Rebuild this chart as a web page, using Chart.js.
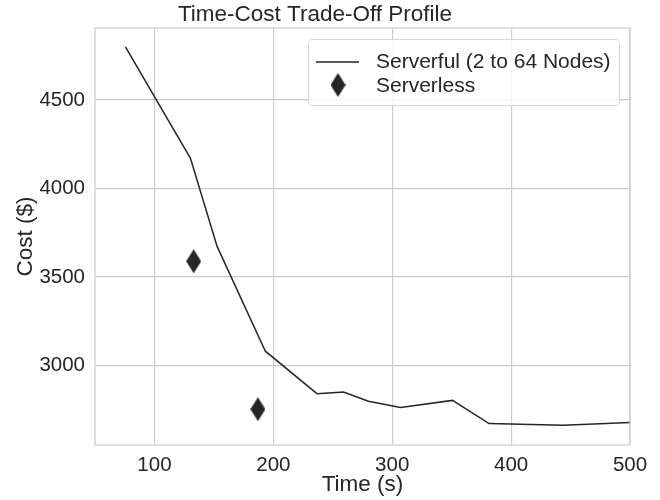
<!DOCTYPE html>
<html>
<head>
<meta charset="utf-8">
<script src="https://cdn.jsdelivr.net/npm/chart.js@4"></script>
<style>
  html, body { margin: 0; padding: 0; background: #fff; }
  #wrap { width: 660px; height: 500px; }
</style>
</head>
<body>
<div id="wrap"><canvas id="tradeoffChart" width="660" height="500"></canvas></div>
<script>
// Values
const serverfulTime = [75.6, 130.3, 152.7, 193.3, 236.7, 259, 280, 307, 350.7, 381.5, 444, 500];
const serverfulCost = [4800, 4171, 3673, 3081, 2841, 2850, 2798, 2763, 2803, 2672, 2663, 2678];
const serverlessTime = [133, 187];
const serverlessCost = [3589, 2753];
const xTicks = [100, 200, 300, 400, 500];
const yTicks = [3000, 3500, 4000, 4500];
const xRange = [50, 500];
const yRange = [2551, 4907];

const ink = '#262626';
const gridColor = '#cccccc';
const fontFamily = '"Liberation Sans", Arial, sans-serif';

// thin diamond marker, like matplotlib 'd'
function makeDiamond(w, h) {
    const c = document.createElement('canvas');
    c.width = w;
    c.height = h;
    const g = c.getContext('2d');
    g.fillStyle = ink;
    g.beginPath();
    g.moveTo(w / 2, 0);
    g.lineTo(w, h / 2);
    g.lineTo(w / 2, h);
    g.lineTo(0, h / 2);
    g.closePath();
    g.fill();
    return c;
}
const diamond = makeDiamond(15, 24);

function toPoints(xs, ys) {
    return xs.map((x, i) => ({ x: x, y: ys[i] }));
}

// frame around the plot and legend box in the upper right
const framePlugin = {
    id: 'frameAndLegend',
    afterDraw(chart) {
        const ctx = chart.ctx;
        const a = chart.chartArea;
        ctx.save();
        ctx.strokeStyle = gridColor;
        ctx.lineWidth = 1.2;
        ctx.strokeRect(a.left, a.top, a.right - a.left, a.bottom - a.top);

        // legend
        const bx = 308, by = 39, bw = 311, bh = 66;
        ctx.fillStyle = 'rgba(255,255,255,0.8)';
        ctx.strokeStyle = '#d6d6d6';
        ctx.lineWidth = 1;
        ctx.beginPath();
        ctx.roundRect(bx + 0.5, by + 0.5, bw, bh, 4);
        ctx.fill();
        ctx.stroke();

        const sets = chart.data.datasets;
        ctx.font = '21px ' + fontFamily;
        ctx.fillStyle = ink;
        ctx.textBaseline = 'middle';
        ctx.textAlign = 'left';

        ctx.strokeStyle = ink;
        ctx.lineWidth = 1.5;
        ctx.beginPath();
        ctx.moveTo(316, 62);
        ctx.lineTo(359, 62);
        ctx.stroke();
        ctx.fillText(sets[0].label, 376, 62);

        ctx.drawImage(diamond, 338 - 7.5, 85 - 12);
        ctx.fillText(sets[1].label, 376, 86);
        ctx.restore();
    }
};

const ctx = document.getElementById('tradeoffChart');

new Chart(ctx, {
    type: 'scatter',
    data: {
        datasets: [
            {
                label: 'Serverful (2 to 64 Nodes)',
                data: toPoints(serverfulTime, serverfulCost),
                showLine: true,
                borderColor: ink,
                borderWidth: 1.5,
                pointRadius: 0,
                pointHoverRadius: 0,
                tension: 0
            },
            {
                label: 'Serverless',
                data: toPoints(serverlessTime, serverlessCost),
                pointStyle: diamond,
                backgroundColor: ink,
                borderColor: ink
            }
        ]
    },
    options: {
        responsive: false,
        animation: false,
        layout: { padding: { left: 0, right: 30, top: 0, bottom: 0 } },
        plugins: {
            legend: { display: false },
            tooltip: { enabled: false },
            title: {
                display: true,
                text: 'Time-Cost Trade-Off Profile',
                color: ink,
                font: { family: fontFamily, size: 22.5, weight: 'normal', lineHeight: 1.2 },
                padding: { top: 1, bottom: 0 }
            }
        },
        scales: {
            x: {
                type: 'linear',
                min: xRange[0],
                max: xRange[1],
                afterBuildTicks(scale) {
                    scale.ticks = xTicks.map(v => ({ value: v }));
                },
                afterFit(scale) {
                    scale.height = 55;
                },
                grid: { color: gridColor, lineWidth: 1.2, drawTicks: false },
                border: { display: false },
                ticks: {
                    color: ink,
                    padding: 8,
                    font: { family: fontFamily, size: 20.5 },
                    callback: v => String(v)
                },
                title: {
                    display: true,
                    text: 'Time (s)',
                    color: ink,
                    font: { family: fontFamily, size: 22.5, lineHeight: 1.2 },
                    padding: { top: 0, bottom: 2 }
                }
            },
            y: {
                type: 'linear',
                min: yRange[0],
                max: yRange[1],
                afterBuildTicks(scale) {
                    scale.ticks = yTicks.map(v => ({ value: v }));
                },
                afterFit(scale) {
                    scale.width = 95;
                },
                grid: { color: gridColor, lineWidth: 1.2, drawTicks: false },
                border: { display: false },
                ticks: {
                    color: ink,
                    padding: 10,
                    font: { family: fontFamily, size: 20.5 },
                    callback: v => String(v)
                },
                title: {
                    display: true,
                    text: 'Cost ($)',
                    color: ink,
                    font: { family: fontFamily, size: 22.5, lineHeight: 1.2 },
                    padding: { top: 12, bottom: 0 }
                }
            }
        }
    },
    plugins: [framePlugin]
});
</script>
</body>
</html>
